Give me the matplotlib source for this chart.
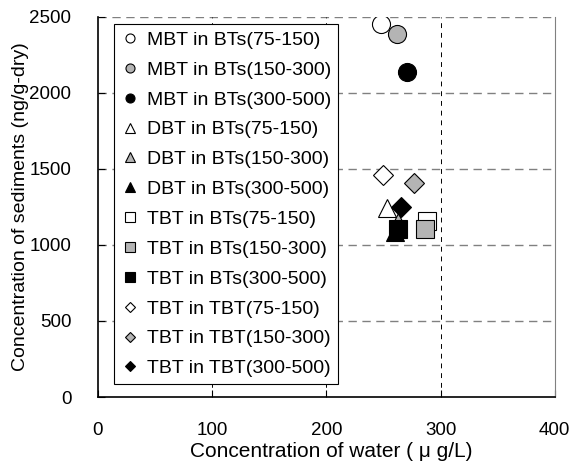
import matplotlib as mpl
mpl.use('Agg')
import matplotlib.pyplot as plt

plt.rcParams['font.family'] = ['Liberation Sans', 'DejaVu Sans']

labels = ["MBT in BTs(75-150)", "MBT in BTs(150-300)", "MBT in BTs(300-500)",
          "DBT in BTs(75-150)", "DBT in BTs(150-300)", "DBT in BTs(300-500)",
          "TBT in BTs(75-150)", "TBT in BTs(150-300)", "TBT in BTs(300-500)",
          "TBT in TBT(75-150)", "TBT in TBT(150-300)", "TBT in TBT(300-500)"]
water = [248, 262, 271, 253, 263, 260, 288, 286, 263, 250, 277, 265]
sediment = [2450, 2390, 2135, 1245, 1150, 1085, 1160, 1105, 1105, 1460, 1410, 1250]
markers = ['o', 'o', 'o', '^', '^', '^', 's', 's', 's', 'D', 'D', 'D']
fills = ['white', '#b4b4b4', 'black'] * 4

fig = plt.figure(figsize=(5.69, 4.66), dpi=100)
ax = fig.add_axes([0.172, 0.148, 0.803, 0.816])

for i in range(len(labels)):
    ms = 10.5 if markers[i] == 'D' else 13
    ax.plot(water[i], sediment[i], linestyle='none', marker=markers[i], markersize=ms,
            markerfacecolor=fills[i], markeredgecolor='black', markeredgewidth=0.8,
            label=labels[i])

ax.set_xlim(0, 400)
ax.set_ylim(0, 2500)
ax.set_xticks([0, 100, 200, 300, 400])
ax.set_yticks([0, 500, 1000, 1500, 2000, 2500])
for y in [500, 1000, 1500, 2000, 2500]:
    ax.axhline(y, color='#808080', linestyle=(0, (6, 4)), linewidth=1, zorder=0)
for x in [100, 200, 300]:
    ax.axvline(x, color='black', linestyle=(0, (5, 5)), linewidth=0.7, zorder=0)

ax.spines['top'].set_visible(False)
ax.spines['right'].set_color('#808080')
ax.spines['right'].set_linewidth(0.8)
ax.spines['left'].set_linewidth(1.2)
ax.spines['bottom'].set_linewidth(1.2)
ax.tick_params(direction='in', length=5, labelsize=13.5, top=False, right=False)
ax.tick_params(axis='x', pad=18)
ax.tick_params(axis='y', pad=19)
ax.set_xlabel("Concentration of water ( μ g/L)", fontsize=15)
ax.set_ylabel("Concentration of sediments (ng/g-dry)", fontsize=14)
ax.xaxis.set_label_coords(0.51, -0.118)
ax.yaxis.set_label_coords(-0.15, 0.50)

leg = ax.legend(loc='upper left', bbox_to_anchor=(0.035, 0.98), borderaxespad=0,
                fontsize=14, frameon=True, fancybox=False, edgecolor='black',
                framealpha=1, handletextpad=0.35, handlelength=1.0, labelspacing=0.63,
                borderpad=0.35, markerscale=0.5)
leg.get_frame().set_linewidth(0.8)

fig.savefig('out.png', dpi=100)
